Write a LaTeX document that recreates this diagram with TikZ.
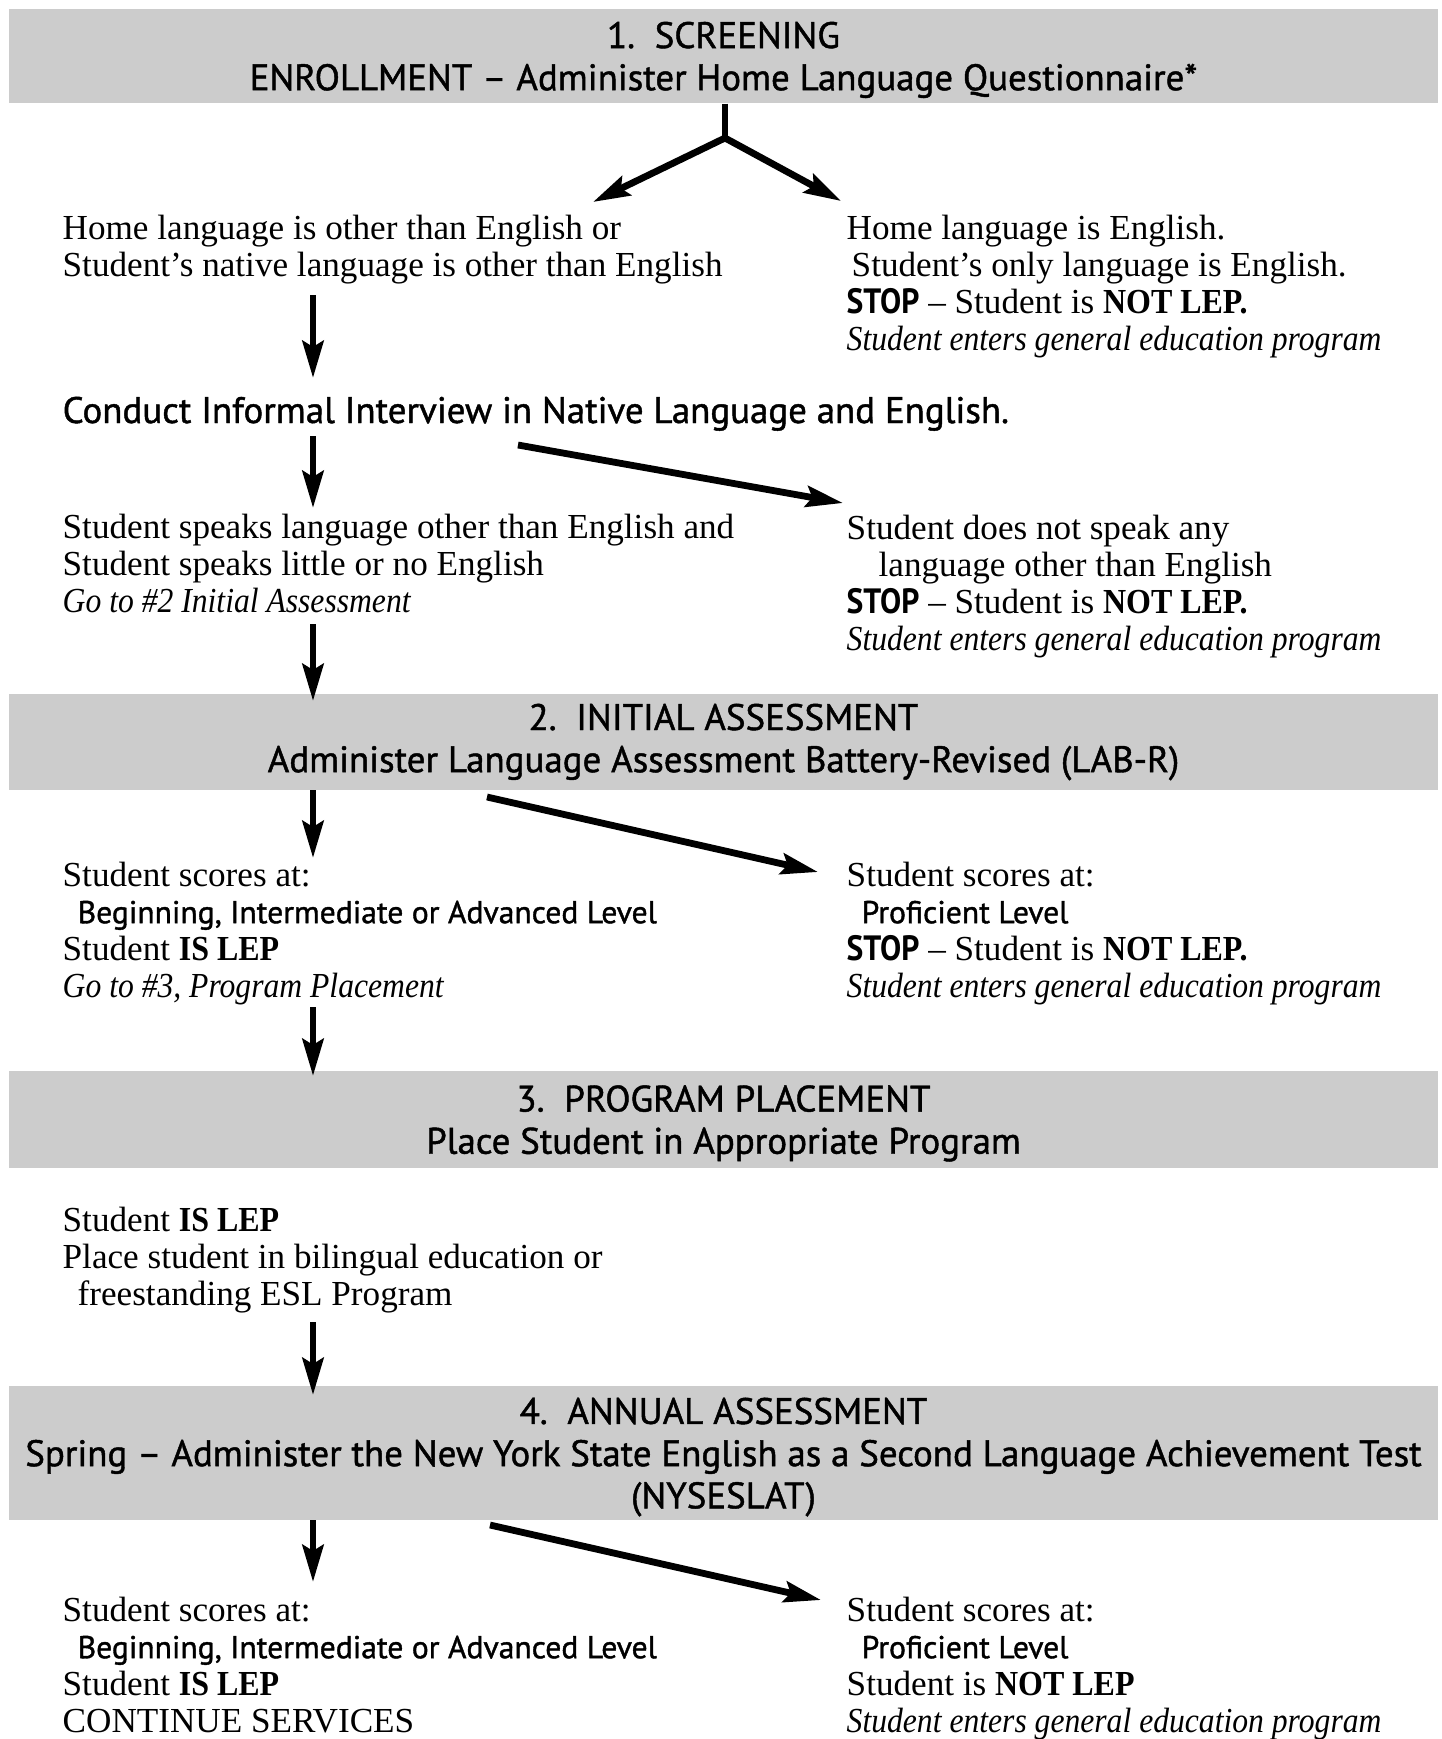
\documentclass[tikz,border=0pt]{standalone}
\usepackage{fontspec}
\setmainfont{Liberation Serif}[ItalicFeatures={FakeStretch=0.9}, BoldFeatures={FakeStretch=0.91}]
\setsansfont{PT Sans}[BoldFeatures={FakeStretch=0.9}]
\newfontfamily\headfont{PT Sans}[Ligatures=TeX, FakeBold=1.2]
\usetikzlibrary{arrows.meta}
\definecolor{barfill}{gray}{0.8}
\tikzset{
    banner/.style={fill=barfill, minimum width=142.9mm, inner sep=0, text depth=0pt, align=center, font=\fontsize{10.5}{12}\selectfont\headfont}, % grey step bars
    note/.style={anchor=base west, inner sep=0, align=left, font=\fontsize{10}{10.5}\selectfont}, % text below the bars, placed at its last line
    flow/.style={line width=0.68mm, -{Stealth[length=3.7mm, width=2.1mm, inset=0.6mm]}},
    stem/.style={line width=0.65mm}
}
\newcommand{\lvl}[1]{\hspace*{1.5mm}{\headfont\fontsize{9}{10.5}\selectfont #1}}
\newcommand{\notlep}{{\sffamily\bfseries STOP} -- Student is \textbf{NOT LEP.}}
\newcommand{\gened}{\textit{Student enters general education program}}

\begin{document}
\begin{tikzpicture}[x=0.1mm, y=-0.1mm]
  \useasboundingbox (0,0) rectangle (1442,1739);

  % 1. screening
  \node[banner, minimum height=9.4mm] (screen) at (723.5,56) {1.\ \ SCREENING\\ENROLLMENT -- Administer Home Language Questionnaire*};
  \node[note] (other) at (62,276) {Home language is other than English or\\Student's native language is other than English};
  \node[note] (english) at (846,350) {Home language is English.\\\hspace*{0.5mm}Student's only language is English.\\\notlep\\\gened};
  \node[note, font=\fontsize{10.5}{12}\selectfont\headfont] (interview) at (62,423) {Conduct Informal Interview in Native Language and English.};
  \node[note] (speaks) at (62,612) {Student speaks language other than English and\\Student speaks little or no English\\\textit{Go to \#2 Initial Assessment}};
  \node[note] (nospeak) at (846,650) {Student does not speak any\\\hspace*{3.2mm}language other than English\\\notlep\\\gened};

  % 2. initial assessment
  \node[banner, minimum height=9.6mm, text depth=] (initial) at (723.5,742) {2.\ \ INITIAL ASSESSMENT\\Administer Language Assessment Battery-Revised (LAB-R)};
  \node[note] (labLow) at (62,997) {Student scores at:\\\lvl{Beginning, Intermediate or Advanced Level}\\Student \textbf{IS LEP}\\\textit{Go to \#3, Program Placement}};
  \node[note] (labHigh) at (846,997) {Student scores at:\\\lvl{Proficient Level}\\\notlep\\\gened};

  % 3. program placement
  \node[banner, minimum height=9.7mm] (place) at (723.5,1119.5) {3.\ \ PROGRAM PLACEMENT\\Place Student in Appropriate Program};
  \node[note] (program) at (62,1305) {Student \textbf{IS LEP}\\Place student in bilingual education or\\\hspace*{1.5mm}freestanding ESL Program};

  % 4. annual assessment
  \node[banner, minimum height=13.4mm] (annual) at (723.5,1453) {4.\ \ ANNUAL ASSESSMENT\\Spring -- Administer the New York State English as a Second Language Achievement Test\\(NYSESLAT)};
  \node[note] (nyLow) at (62,1732) {Student scores at:\\\lvl{Beginning, Intermediate or Advanced Level}\\Student \textbf{IS LEP}\\CONTINUE SERVICES};
  \node[note] (nyHigh) at (846,1732) {Student scores at:\\\lvl{Proficient Level}\\Student is \textbf{NOT LEP}\\\gened};

  % arrow ends
  \coordinate (fork) at (725,138);
  \coordinate (otherTip) at (593,202);
  \coordinate (englishTip) at (841,201);
  \coordinate (a1) at (313,295);   \coordinate (a1t) at (313,378);
  \coordinate (a2) at (313,436);   \coordinate (a2t) at (313,508);
  \coordinate (b1) at (518,445);   \coordinate (b1t) at (843,503);
  \coordinate (a3) at (313,624);   \coordinate (a3t) at (313,701);
  \coordinate (a4) at (313,790);   \coordinate (a4t) at (313,858);
  \coordinate (b2) at (487,797);   \coordinate (b2t) at (818,872);
  \coordinate (a5) at (313,1007);  \coordinate (a5t) at (313,1076);
  \coordinate (a6) at (313,1322);  \coordinate (a6t) at (313,1395);
  \coordinate (a7) at (313,1520);  \coordinate (a7t) at (313,1582);
  \coordinate (b3) at (490,1525);  \coordinate (b3t) at (821,1600);

  \draw[stem] (screen.south -| fork) -- (fork);
  \draw[flow] (fork) -- (otherTip);
  \draw[flow] (fork) -- (englishTip);
  \draw[flow] (a1) -- (a1t);
  \draw[flow] (a2) -- (a2t);
  \draw[flow] (b1) -- (b1t);
  \draw[flow] (a3) -- (a3t);
  \draw[flow] (a4) -- (a4t);
  \draw[flow] (b2) -- (b2t);
  \draw[flow] (a5) -- (a5t);
  \draw[flow] (a6) -- (a6t);
  \draw[flow] (a7) -- (a7t);
  \draw[flow] (b3) -- (b3t);
\end{tikzpicture}
\end{document}
